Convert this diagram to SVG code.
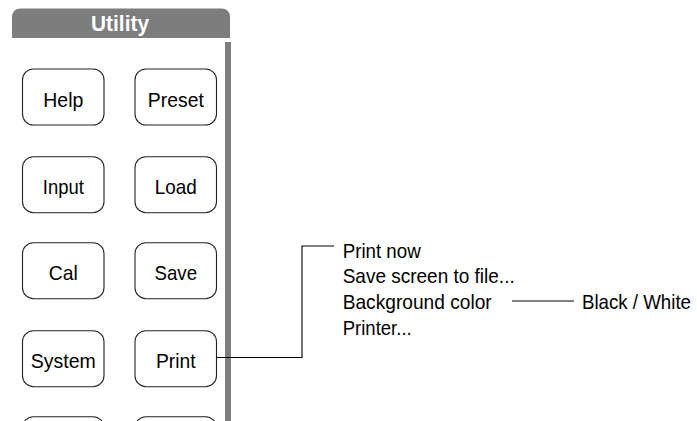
<svg xmlns="http://www.w3.org/2000/svg" width="697" height="421" viewBox="0 0 697 421">
<style>
.btn rect{fill:#fff;stroke:#222;stroke-width:1.1}
.lbl{font-family:"Liberation Sans",Arial,sans-serif;font-size:21px;fill:#000;text-anchor:middle}
.opt{font-family:"Liberation Sans",Arial,sans-serif;font-size:21px;fill:#000}
.conn{fill:none;stroke:#000;stroke-width:1.1}
</style>
<rect width="697" height="421" fill="#fff"/>
<g id="header">
<path d="M12 38 V17.5 Q12 8.5 21 8.5 H221 Q230 8.5 230 17.5 V38 Z" fill="#7d7d7d"/>
<text x="120" y="30.5" font-family="'Liberation Sans',Arial,sans-serif" font-weight="bold" font-size="22" fill="#fff" text-anchor="middle" textLength="58" lengthAdjust="spacingAndGlyphs">Utility</text>
</g>
<g id="panel-edge"><rect x="225" y="42" width="6" height="379" fill="#7d7d7d"/></g>
<g id="btn-help" class="btn"><rect x="22.5" y="69" width="81.5" height="56" rx="11"/><text class="lbl" x="63.3" y="106.7" textLength="40" lengthAdjust="spacingAndGlyphs">Help</text></g>
<g id="btn-preset" class="btn"><rect x="135" y="69" width="81.5" height="56" rx="11"/><text class="lbl" x="175.8" y="106.7" textLength="56" lengthAdjust="spacingAndGlyphs">Preset</text></g>
<g id="btn-input" class="btn"><rect x="22.5" y="156.7" width="81.5" height="56" rx="11"/><text class="lbl" x="63.3" y="194.4" textLength="41" lengthAdjust="spacingAndGlyphs">Input</text></g>
<g id="btn-load" class="btn"><rect x="135" y="156.7" width="81.5" height="56" rx="11"/><text class="lbl" x="175.8" y="194.4" textLength="42" lengthAdjust="spacingAndGlyphs">Load</text></g>
<g id="btn-cal" class="btn"><rect x="22.5" y="242.7" width="81.5" height="56" rx="11"/><text class="lbl" x="63.3" y="280.4" textLength="29" lengthAdjust="spacingAndGlyphs">Cal</text></g>
<g id="btn-save" class="btn"><rect x="135" y="242.7" width="81.5" height="56" rx="11"/><text class="lbl" x="175.8" y="280.4" textLength="42.5" lengthAdjust="spacingAndGlyphs">Save</text></g>
<g id="btn-system" class="btn"><rect x="22.5" y="330.7" width="81.5" height="56" rx="11"/><text class="lbl" x="63.3" y="368.4" textLength="65" lengthAdjust="spacingAndGlyphs">System</text></g>
<g id="btn-print" class="btn"><rect x="135" y="330.7" width="81.5" height="56" rx="11"/><text class="lbl" x="175.8" y="368.4" textLength="39.7" lengthAdjust="spacingAndGlyphs">Print</text></g>
<g id="btn-row5a" class="btn"><rect x="22.5" y="416.7" width="81.5" height="56" rx="11"/></g>
<g id="btn-row5b" class="btn"><rect x="135" y="416.7" width="81.5" height="56" rx="11"/></g>
<g id="connectors">
<path class="conn" d="M216.5 357.5 H302 V246 H334"/>
<path class="conn" d="M512 301 H574"/>
</g>
<g id="print-menu">
<text class="opt" x="342.7" y="257.5" textLength="78" lengthAdjust="spacingAndGlyphs">Print now</text>
<text class="opt" x="342.7" y="283.3" textLength="172" lengthAdjust="spacingAndGlyphs">Save screen to file...</text>
<text class="opt" x="342.7" y="309" textLength="149" lengthAdjust="spacingAndGlyphs">Background color</text>
<text class="opt" x="342.7" y="334.8" textLength="69" lengthAdjust="spacingAndGlyphs">Printer...</text>
</g>
<g id="bg-option">
<text class="opt" x="582" y="309" textLength="109" lengthAdjust="spacingAndGlyphs">Black / White</text>
</g>
</svg>
